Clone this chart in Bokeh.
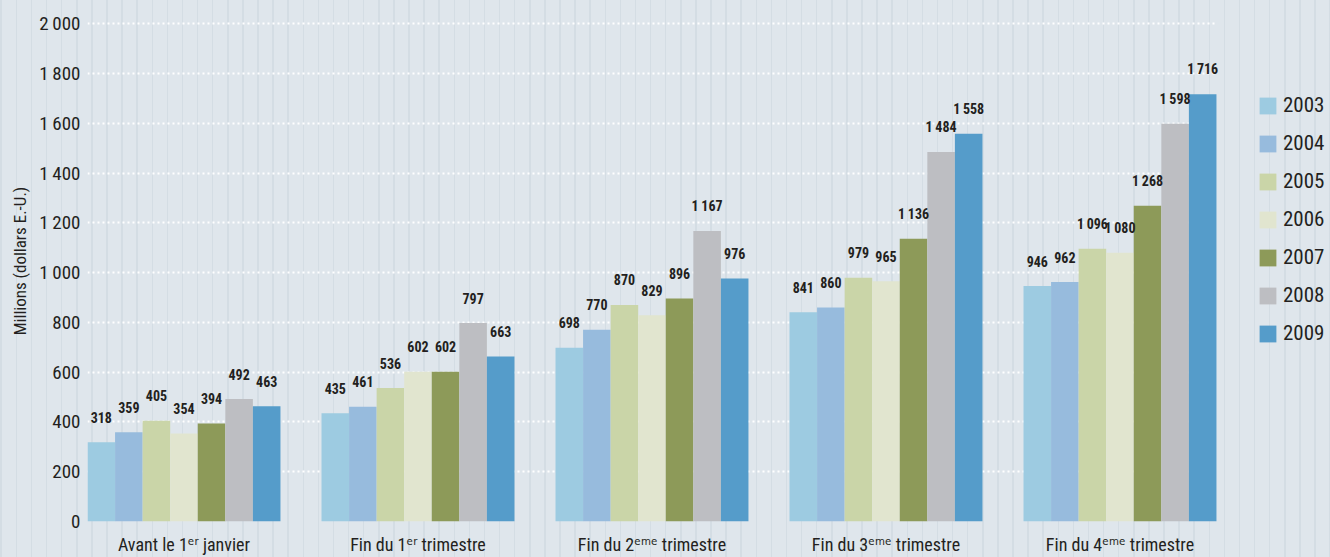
from bokeh.plotting import figure
from bokeh.models import ColumnDataSource, Range1d, FixedTicker, Legend, LegendItem, BoxAnnotation
from bokeh.transform import dodge
from bokeh.core.properties import value
from bokeh.embed import file_html
from bokeh.resources import INLINE

# ---- data ----
categories = [
    "Avant le 1\u1d49\u02b3 janvier",
    "Fin du 1\u1d49\u02b3 trimestre",
    "Fin du 2\u1d49\u1d50\u1d49 trimestre",
    "Fin du 3\u1d49\u1d50\u1d49 trimestre",
    "Fin du 4\u1d49\u1d50\u1d49 trimestre",
]
years = ["2003", "2004", "2005", "2006", "2007", "2008", "2009"]
v2003 = [318, 435, 698, 841, 946]
v2004 = [359, 461, 770, 860, 962]
v2005 = [405, 536, 870, 979, 1096]
v2006 = [354, 602, 829, 965, 1080]
v2007 = [394, 602, 896, 1136, 1268]
v2008 = [492, 797, 1167, 1484, 1598]
v2009 = [463, 663, 976, 1558, 1716]
series = [v2003, v2004, v2005, v2006, v2007, v2008, v2009]
colors = ["#9dcbe1", "#97bbdd", "#cad5a8", "#e1e5cf", "#8d9a59", "#bdbec2", "#559cca"]
y_ticks = [0, 200, 400, 600, 800, 1000, 1200, 1400, 1600, 1800, 2000]

FONT = "'Roboto Condensed', 'DejaVu Sans Condensed', 'Liberation Sans Narrow', Roboto"
TXT = "#231f20"
BG = "#dfe6ec"

def fmt(v):
    return f"{v:,}".replace(",", "\u2009")

idx = list(range(len(categories)))
bar_w = 0.1178
n = len(years)
x_lo = -n * bar_w / 2
x_hi = len(categories) - 1 + n * bar_w / 2

p = figure(
    width=1330, height=557,
    x_range=Range1d(x_lo, x_lo + 1243 / 234.0),
    y_range=Range1d(0, 2093),
    output_backend="svg", toolbar_location=None,
    min_border_left=87, min_border_right=0, min_border_top=0, min_border_bottom=30,
)
p.background_fill_alpha = 0
p.border_fill_alpha = 0
p.outline_line_color = None
p.styles = {
    "background-color": BG,
    "background-image": "repeating-linear-gradient(to right, transparent 0px, transparent 0.5px, #d4dde4 0.5px, #d4dde4 2px, transparent 2px, transparent 15.1px)",
}

p.xgrid.grid_line_color = None
p.ygrid.grid_line_color = "white"
p.ygrid.grid_line_width = 2
p.ygrid.grid_line_dash = "2 3"
try:
    p.ygrid.cross_bounds = (x_lo, x_hi)
except Exception:
    p.add_layout(BoxAnnotation(left=x_hi, fill_color=BG, fill_alpha=1, line_color=None,
                               hatch_pattern="|", hatch_scale=15, hatch_color="#d4dde4",
                               hatch_weight=1.5))

items = []
sources = []
for k, (yr, vals, col) in enumerate(zip(years, series, colors)):
    off = (k - (n - 1) / 2) * bar_w
    src = ColumnDataSource(dict(idx=idx, val=vals, lbl=[fmt(v) for v in vals]))
    sources.append((off, src))
    r = p.vbar(x=dodge("idx", off), top="val", width=bar_w, source=src,
               fill_color=col, line_color=None)
    items.append(LegendItem(label=yr, renderers=[r]))

for off, src in sources:
    p.text(x=dodge("idx", off), y="val", text="lbl", source=src,
           text_font=value(FONT), text_font_style="bold", text_font_size="14px",
           text_color=TXT, text_align="center", text_baseline="middle", y_offset=-25)

# axes
for ax in (p.xaxis[0], p.yaxis[0]):
    ax.axis_line_color = None
    ax.major_tick_line_color = None
    ax.minor_tick_line_color = None
    ax.major_tick_out = 0
    ax.major_tick_in = 0
    ax.minor_tick_out = 0
    ax.minor_tick_in = 0
    ax.major_label_text_font = FONT
    ax.major_label_text_color = TXT

p.xaxis.ticker = FixedTicker(ticks=idx)
p.xaxis.major_label_overrides = {i: c for i, c in zip(idx, categories)}
p.xaxis.major_label_text_font_size = "18px"
p.xaxis.major_label_standoff = 12

p.yaxis.ticker = FixedTicker(ticks=y_ticks)
p.yaxis.major_label_overrides = {t: fmt(t) for t in y_ticks}
p.yaxis.major_label_text_font_size = "19px"
p.yaxis.major_label_standoff = 7
p.yaxis.axis_label = "Millions (dollars E.-U.)"
p.yaxis.axis_label_text_font = FONT
p.yaxis.axis_label_text_font_size = "17px"
p.yaxis.axis_label_text_font_style = "normal"
p.yaxis.axis_label_text_color = TXT
p.yaxis.axis_label_standoff = 6

legend = Legend(items=items, location=(1170, 176), orientation="vertical",
                glyph_width=21, glyph_height=21, label_height=21, spacing=14,
                label_standoff=5, padding=0, margin=0,
                label_text_font=FONT, label_text_font_size="21px", label_text_color=TXT,
                background_fill_alpha=0, border_line_color=None)
p.add_layout(legend, "center")

open("out.html", "w").write(file_html(p, INLINE))
